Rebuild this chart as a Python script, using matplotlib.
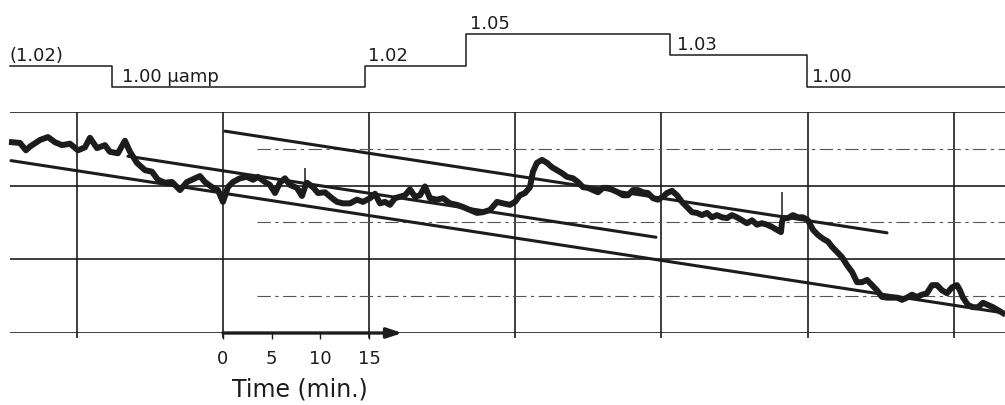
import matplotlib.pyplot as plt

# recorder trace: time (min) and pen position (chart divisions)
trace_t = [-21.65, -20.83, -20.22, -19.81, -18.78, -17.96, -17.24, -16.52, -15.70, -14.88,
           -14.16, -13.65, -12.93, -12.11, -11.60, -10.78, -10.06, -9.54, -8.83, -8.00,
           -7.29, -6.67, -5.95, -5.23, -4.41, -3.69, -2.87, -2.36, -1.85, -1.13,
           -0.51, 0.00, 0.51, 1.03, 1.74, 2.46, 3.08, 3.59, 4.31, 4.82,
           5.34, 5.85, 6.36, 6.88, 7.59, 8.11, 8.41, 8.62,
           9.24, 9.75, 10.47, 11.19, 11.70, 12.31, 13.03, 13.75, 14.37, 15.09,
           15.60, 16.11, 16.62, 17.14, 17.65, 18.16, 18.68, 19.19, 19.70, 20.22,
           20.73, 21.24, 21.96, 22.58, 23.29, 24.01, 24.63, 25.35, 26.07, 26.68,
           27.40, 28.12, 28.73, 29.45, 29.97, 30.48, 30.99, 31.50, 31.81, 32.22,
           32.74, 33.25, 33.76, 34.28, 34.79, 35.30, 35.92, 36.43, 36.94, 37.46,
           37.97, 38.48, 39.00, 39.51, 40.02, 40.53, 41.05, 41.56, 42.07, 42.59,
           43.10, 43.61, 44.13, 44.64, 45.15, 45.56, 46.08, 46.59, 47.10, 47.62,
           48.13, 48.64, 49.15, 49.67, 50.18, 50.69, 51.21, 51.72, 52.23, 52.75,
           53.26, 53.77, 54.29, 54.80, 55.31, 55.83, 56.34, 56.85, 57.26, 57.36,
           57.47, 57.98, 58.49, 59.01, 59.52, 60.03, 60.55, 61.06, 61.57, 62.09,
           62.50, 63.01, 63.52, 64.04, 64.55, 65.06, 65.57, 66.09, 66.60, 67.11,
           67.63, 68.14, 68.65, 69.17, 69.68, 70.19, 70.71, 71.22, 71.73, 72.24,
           72.76, 73.27, 73.78, 74.30, 74.81, 75.32, 75.63, 75.94, 76.45, 76.97,
           77.48, 77.99, 78.50, 79.02, 79.53, 80.04]
trace_y = [2.59, 2.58, 2.48, 2.53, 2.62, 2.66, 2.59, 2.55, 2.57, 2.48,
           2.52, 2.65, 2.51, 2.55, 2.46, 2.44, 2.61, 2.46, 2.31, 2.21,
           2.19, 2.08, 2.04, 2.05, 1.94, 2.05, 2.10, 2.13, 2.05, 1.98,
           1.94, 1.78, 1.98, 2.05, 2.10, 2.12, 2.08, 2.12, 2.05, 2.01,
           1.90, 2.04, 2.10, 2.01, 1.97, 1.86, 1.98, 2.04,
           1.98, 1.90, 1.91, 1.83, 1.78, 1.76, 1.76, 1.81, 1.78, 1.83,
           1.89, 1.76, 1.78, 1.74, 1.83, 1.85, 1.87, 1.95, 1.85, 1.87,
           1.99, 1.83, 1.81, 1.83, 1.76, 1.74, 1.71, 1.67, 1.63, 1.64,
           1.67, 1.78, 1.76, 1.74, 1.78, 1.87, 1.90, 1.98, 2.19, 2.31,
           2.35, 2.31, 2.25, 2.21, 2.17, 2.12, 2.10, 2.05, 1.98, 1.97,
           1.94, 1.91, 1.97, 1.97, 1.94, 1.91, 1.87, 1.87, 1.94, 1.94,
           1.91, 1.90, 1.83, 1.81, 1.85, 1.90, 1.93, 1.87, 1.78, 1.71,
           1.64, 1.63, 1.60, 1.63, 1.57, 1.60, 1.57, 1.56, 1.60, 1.57,
           1.53, 1.49, 1.53, 1.47, 1.49, 1.47, 1.44, 1.40, 1.37, 1.50,
           1.56, 1.56, 1.60, 1.57, 1.57, 1.53, 1.40, 1.33, 1.28, 1.24,
           1.17, 1.10, 1.03, 0.92, 0.83, 0.69, 0.69, 0.72, 0.65, 0.58,
           0.49, 0.48, 0.48, 0.48, 0.45, 0.48, 0.52, 0.49, 0.52, 0.54,
           0.65, 0.65, 0.58, 0.54, 0.62, 0.65, 0.58, 0.48, 0.38, 0.35,
           0.35, 0.41, 0.38, 0.35, 0.31, 0.27]

# thin pen spikes (time, base, top)
spike_t = [8.41, 57.36]
spike_base = [1.98, 1.50]
spike_top = [2.24, 1.91]

# the three straight lines ruled over the trace (start, end)
line_a_t = [0.21, 68.14]
line_a_y = [2.74, 1.36]
line_b_t = [-9.75, 44.43]
line_b_y = [2.40, 1.30]
line_c_t = [-21.75, 80.25]
line_c_y = [2.34, 0.27]

# current steps above the chart (µamp)
step_edges = [-21.9, -11.39, 14.57, 24.94, 45.87, 59.93, 80.25]
step_current = [1.02, 1.00, 1.02, 1.05, 1.03, 1.00]
step_labels = ['(1.02)', '1.00 µamp', '1.02', '1.05', '1.03', '1.00']

grid_t = [-15, 0, 15, 30, 45, 60, 75]
grid_y = [0, 1, 2, 3]
grid_half_y = [0.5, 1.5, 2.5]
time_ticks = [0, 5, 10, 15]

ink = '#1c1c1c'
plt.rcParams['font.family'] = ['DejaVu Sans']

fig = plt.figure(figsize=(10.05, 4.05), dpi=100)

# chart paper
ax = fig.add_axes([0, 72 / 405, 1, 221 / 405])
ax.set_xlim(-22.88, 80.25)
ax.set_ylim(0, 3)
for s in ax.spines.values():
    s.set_visible(False)
ax.set_yticks([])

ax.hlines(grid_y, -21.9, 80.25, color=ink, lw=1.2)
ax.vlines(grid_t, -0.07, 3, color=ink, lw=1.2, clip_on=False)
ax.hlines(grid_half_y, 3.5, 80.25, color='#555555', lw=0.8, linestyles=[(0, (12, 4, 3, 4))])

ax.plot(line_a_t, line_a_y, color=ink, lw=2.2, solid_capstyle='round')
ax.plot(line_b_t, line_b_y, color=ink, lw=2.2, solid_capstyle='round')
ax.plot(line_c_t, line_c_y, color=ink, lw=2.2, solid_capstyle='round')

ax.plot(trace_t, trace_y, color=ink, lw=4.3, solid_joinstyle='round', clip_on=False)
ax.vlines(spike_t, spike_base, spike_top, color=ink, lw=1.1)

# time arrow along the base line
ax.annotate('', xy=(18.4, 0), xytext=(0, 0), annotation_clip=False,
            arrowprops=dict(arrowstyle='-|>,head_length=0.9,head_width=0.3', lw=2.4,
                            color=ink, shrinkA=0, shrinkB=0))

ax.set_xticks(time_ticks)
ax.set_xticklabels([str(v) for v in time_ticks])
ax.tick_params(axis='x', length=4, width=1, pad=8, labelsize=13, colors=ink)
ax.text(7.9, -0.77, 'Time (min.)', ha='center', va='center', fontsize=17, color=ink)

# current trace on top
sx = fig.add_axes([0, 305 / 405, 1, 100 / 405])
sx.set_xlim(-22.88, 80.25)
sx.set_ylim(0.9882, 1.0812)
sx.axis('off')
sx.step(step_edges, step_current + [step_current[-1]], where='post', color=ink, lw=1.1)

label_dx = [0, 7.2, 2.2, 2.9, 5.0, 3.6]
for x0, cur, lab, dx in zip(step_edges, step_current, step_labels, label_dx):
    sx.annotate(lab, xy=(x0, cur), xytext=(dx, 3.6), textcoords='offset points',
                ha='left', va='baseline', fontsize=13, color=ink)

fig.savefig('out.png', dpi=100)
